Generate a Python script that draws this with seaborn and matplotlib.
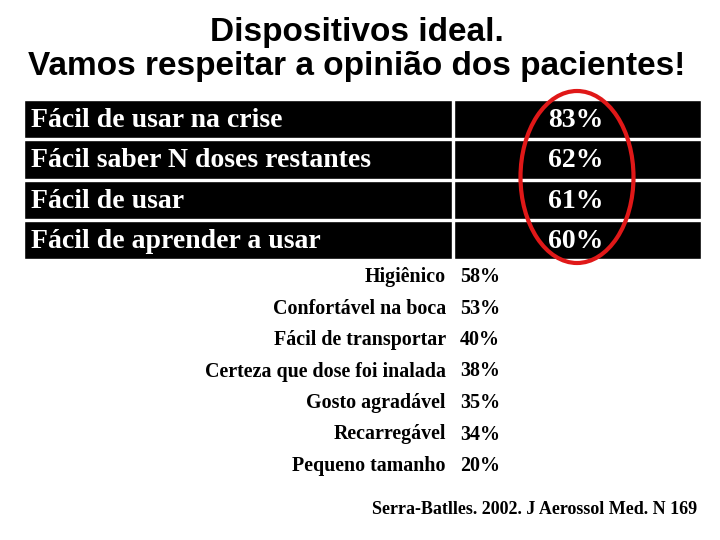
import matplotlib.pyplot as plt
import seaborn as sns
from matplotlib.patches import Ellipse

# -------------------------------
# Data
# -------------------------------
title_lines = ["Dispositivos ideal.", "Vamos respeitar a opinião dos pacientes!"]

top_labels = ["Fácil de usar na crise", "Fácil saber N doses restantes",
              "Fácil de usar", "Fácil de aprender a usar"]
top_values = [83, 62, 61, 60]

rest_labels = ["Higiênico", "Confortável na boca", "Fácil de transportar",
               "Certeza que dose foi inalada", "Gosto agradável",
               "Recarregável", "Pequeno tamanho"]
rest_values = [58, 53, 40, 38, 35, 34, 20]

source = "Serra-Batlles. 2002. J Aerossol Med. N 169"

# -------------------------------
# Layout (pixel-like coordinates, y down)
# -------------------------------
sns.set_theme(style="white")
plt.rcParams['font.family'] = ['Liberation Serif', 'DejaVu Serif']
plt.rcParams['text.color'] = 'black'

fig = plt.figure(figsize=(7.2, 5.4), dpi=100)
ax = fig.add_axes([0, 0, 1, 1])
ax.set_xlim(0, 720)
ax.set_ylim(540, 0)
ax.axis("off")

# title
for i, line in enumerate(title_lines):
    ax.text(357, 32 + i * 35, line, ha="center", va="center", color="black",
            fontsize=24, fontweight="bold", family=["Liberation Sans", "DejaVu Sans"])

# black table rows
table_top, row_h, gap = 99, 40.25, 2
left_x, split_x, right_x = 24, 453, 701
for i, (lab, val) in enumerate(zip(top_labels, top_values)):
    yc = table_top + row_h * i + row_h / 2
    ax.barh(yc, split_x - left_x - gap / 2, left=left_x, height=row_h - gap,
            color="black")
    ax.barh(yc, right_x - split_x - gap / 2, left=split_x + gap / 2,
            height=row_h - gap, color="black")
    ax.text(left_x + 7, yc + 1.5, lab, ha="left", va="center", color="white",
            fontsize=20, fontweight="bold")
    ax.text(576, yc + 1.5, f"{val}%", ha="center", va="center", color="white",
            fontsize=20, fontweight="bold")

# red ellipse around the percentages
ax.add_patch(Ellipse((577, 177), 113, 172, fill=False, edgecolor="#e01818",
                     linewidth=3))

# remaining items
for i, (lab, val) in enumerate(zip(rest_labels, rest_values)):
    yc = 277 + i * 31.5
    ax.text(446, yc, lab, ha="right", va="center", fontsize=14.4,
            fontweight="bold", color="black")
    ax.text(460, yc, f"{val}%", ha="left", va="center", fontsize=14.4,
            fontweight="bold", color="black")

ax.text(697, 510, source, ha="right", va="center", fontsize=13,
        fontweight="bold", color="black")

plt.savefig("out.png", dpi=100, facecolor="white")
